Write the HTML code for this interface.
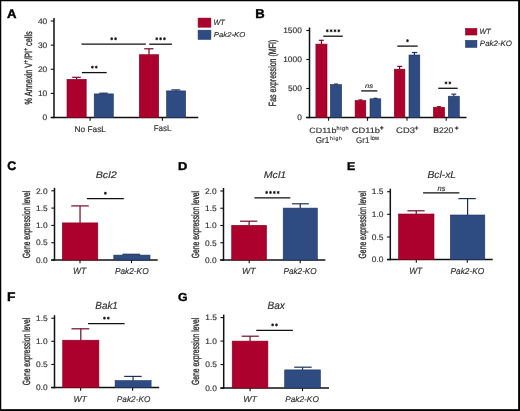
<!DOCTYPE html>
<html><head><meta charset="utf-8"><style>
html,body{margin:0;padding:0;background:#fff;}
svg{display:block;font-family:"Liberation Sans", sans-serif;filter:blur(0.3px);}
text{text-rendering:geometricPrecision;}
</style></head><body>
<svg width="520" height="411" viewBox="0 0 520 411">
<rect x="0" y="0" width="520" height="411" fill="#fff"/>
<text x="7.00" y="17.80" font-size="12.46" font-style="normal" font-weight="bold" fill="#000" stroke="#000" stroke-width="0.4" textLength="9.52" lengthAdjust="spacingAndGlyphs">A</text>
<line x1="54.00" y1="18.00" x2="54.00" y2="118.20" stroke="#111" stroke-width="1.5"/>
<line x1="50.80" y1="21.02" x2="54.00" y2="21.02" stroke="#111" stroke-width="1.1"/>
<text x="37.93" y="23.78" font-size="8.00" font-style="normal" font-weight="normal" fill="#303030" stroke="#303030" stroke-width="0.15" textLength="9.34" lengthAdjust="spacingAndGlyphs">40</text>
<line x1="50.80" y1="45.14" x2="54.00" y2="45.14" stroke="#111" stroke-width="1.1"/>
<text x="37.93" y="47.90" font-size="8.00" font-style="normal" font-weight="normal" fill="#303030" stroke="#303030" stroke-width="0.15" textLength="9.34" lengthAdjust="spacingAndGlyphs">30</text>
<line x1="50.80" y1="69.26" x2="54.00" y2="69.26" stroke="#111" stroke-width="1.1"/>
<text x="37.93" y="72.02" font-size="8.00" font-style="normal" font-weight="normal" fill="#303030" stroke="#303030" stroke-width="0.15" textLength="9.34" lengthAdjust="spacingAndGlyphs">20</text>
<line x1="50.80" y1="93.38" x2="54.00" y2="93.38" stroke="#111" stroke-width="1.1"/>
<text x="37.93" y="96.14" font-size="8.00" font-style="normal" font-weight="normal" fill="#303030" stroke="#303030" stroke-width="0.15" textLength="9.34" lengthAdjust="spacingAndGlyphs">10</text>
<line x1="50.80" y1="117.50" x2="54.00" y2="117.50" stroke="#111" stroke-width="1.1"/>
<text x="42.63" y="120.26" font-size="8.00" font-style="normal" font-weight="normal" fill="#303030" stroke="#303030" stroke-width="0.15" textLength="4.67" lengthAdjust="spacingAndGlyphs">0</text>
<line x1="50.80" y1="117.50" x2="198.30" y2="117.50" stroke="#111" stroke-width="1.5"/>
<line x1="90.10" y1="117.50" x2="90.10" y2="120.80" stroke="#111" stroke-width="1.1"/>
<line x1="162.40" y1="117.50" x2="162.40" y2="120.80" stroke="#111" stroke-width="1.1"/>
<line x1="76.60" y1="77.30" x2="76.60" y2="79.30" stroke="#700a25" stroke-width="1.2"/>
<line x1="72.20" y1="77.30" x2="80.80" y2="77.30" stroke="#700a25" stroke-width="1.2"/>
<rect x="67.00" y="79.30" width="19.20" height="38.20" fill="#ac002d" stroke="#86001f" stroke-width="0.6"/>
<line x1="103.75" y1="93.20" x2="103.75" y2="93.90" stroke="#1f3058" stroke-width="1.2"/>
<line x1="99.40" y1="93.20" x2="107.70" y2="93.20" stroke="#1f3058" stroke-width="1.2"/>
<rect x="94.20" y="93.90" width="19.10" height="23.60" fill="#2e4b82" stroke="#1c3260" stroke-width="0.6"/>
<line x1="149.00" y1="48.80" x2="149.00" y2="54.70" stroke="#700a25" stroke-width="1.2"/>
<line x1="144.20" y1="48.80" x2="153.50" y2="48.80" stroke="#700a25" stroke-width="1.2"/>
<rect x="139.30" y="54.70" width="19.40" height="62.80" fill="#ac002d" stroke="#86001f" stroke-width="0.6"/>
<line x1="176.10" y1="89.90" x2="176.10" y2="90.90" stroke="#1f3058" stroke-width="1.2"/>
<line x1="171.40" y1="89.90" x2="180.30" y2="89.90" stroke="#1f3058" stroke-width="1.2"/>
<rect x="166.60" y="90.90" width="19.00" height="26.60" fill="#2e4b82" stroke="#1c3260" stroke-width="0.6"/>
<line x1="81.50" y1="44.20" x2="145.80" y2="44.20" stroke="#111" stroke-width="1.3"/>
<circle cx="111.73" cy="38.75" r="0.95" fill="#151515"/>
<line x1="111.73" y1="37.20" x2="111.73" y2="40.30" stroke="#151515" stroke-width="0.75"/>
<line x1="110.38" y1="37.98" x2="113.07" y2="39.52" stroke="#151515" stroke-width="0.75"/>
<line x1="113.07" y1="37.98" x2="110.38" y2="39.52" stroke="#151515" stroke-width="0.75"/>
<circle cx="115.58" cy="38.75" r="0.95" fill="#151515"/>
<line x1="115.58" y1="37.20" x2="115.58" y2="40.30" stroke="#151515" stroke-width="0.75"/>
<line x1="114.23" y1="37.98" x2="116.92" y2="39.52" stroke="#151515" stroke-width="0.75"/>
<line x1="116.92" y1="37.98" x2="114.23" y2="39.52" stroke="#151515" stroke-width="0.75"/>
<line x1="149.30" y1="44.20" x2="171.90" y2="44.20" stroke="#111" stroke-width="1.3"/>
<circle cx="156.75" cy="38.75" r="0.95" fill="#151515"/>
<line x1="156.75" y1="37.20" x2="156.75" y2="40.30" stroke="#151515" stroke-width="0.75"/>
<line x1="155.41" y1="37.98" x2="158.09" y2="39.52" stroke="#151515" stroke-width="0.75"/>
<line x1="158.09" y1="37.98" x2="155.41" y2="39.52" stroke="#151515" stroke-width="0.75"/>
<circle cx="160.60" cy="38.75" r="0.95" fill="#151515"/>
<line x1="160.60" y1="37.20" x2="160.60" y2="40.30" stroke="#151515" stroke-width="0.75"/>
<line x1="159.26" y1="37.98" x2="161.94" y2="39.52" stroke="#151515" stroke-width="0.75"/>
<line x1="161.94" y1="37.98" x2="159.26" y2="39.52" stroke="#151515" stroke-width="0.75"/>
<circle cx="164.45" cy="38.75" r="0.95" fill="#151515"/>
<line x1="164.45" y1="37.20" x2="164.45" y2="40.30" stroke="#151515" stroke-width="0.75"/>
<line x1="163.11" y1="37.98" x2="165.79" y2="39.52" stroke="#151515" stroke-width="0.75"/>
<line x1="165.79" y1="37.98" x2="163.11" y2="39.52" stroke="#151515" stroke-width="0.75"/>
<line x1="81.90" y1="72.60" x2="106.70" y2="72.60" stroke="#111" stroke-width="1.3"/>
<circle cx="92.38" cy="67.15" r="0.95" fill="#151515"/>
<line x1="92.38" y1="65.60" x2="92.38" y2="68.70" stroke="#151515" stroke-width="0.75"/>
<line x1="91.03" y1="66.37" x2="93.72" y2="67.92" stroke="#151515" stroke-width="0.75"/>
<line x1="93.72" y1="66.37" x2="91.03" y2="67.92" stroke="#151515" stroke-width="0.75"/>
<circle cx="96.23" cy="67.15" r="0.95" fill="#151515"/>
<line x1="96.23" y1="65.60" x2="96.23" y2="68.70" stroke="#151515" stroke-width="0.75"/>
<line x1="94.88" y1="66.37" x2="97.57" y2="67.92" stroke="#151515" stroke-width="0.75"/>
<line x1="97.57" y1="66.37" x2="94.88" y2="67.92" stroke="#151515" stroke-width="0.75"/>
<text x="74.43" y="131.62" font-size="8.29" font-style="normal" font-weight="normal" fill="#303030" stroke="#303030" stroke-width="0.15" textLength="31.60" lengthAdjust="spacingAndGlyphs">No FasL</text>
<text x="153.66" y="131.42" font-size="8.29" font-style="normal" font-weight="normal" fill="#303030" stroke="#303030" stroke-width="0.15" textLength="17.80" lengthAdjust="spacingAndGlyphs">FasL</text>
<text x="31.6" y="67.8" font-size="10.4" fill="#303030" stroke="#303030" stroke-width="0.35" text-anchor="middle" textLength="73.2" lengthAdjust="spacingAndGlyphs" transform="rotate(-90 31.6 67.8)">% Annexin V<tspan font-size="7" dy="-3.8">+</tspan><tspan dy="3.8">/PI</tspan><tspan font-size="7" dy="-3.8">+</tspan><tspan dy="3.8"> cells</tspan></text>
<rect x="198.10" y="18.10" width="12.80" height="9.10" fill="#ac002d" stroke="#86001f" stroke-width="0.6"/>
<rect x="198.10" y="30.20" width="12.80" height="9.10" fill="#2e4b82" stroke="#1c3260" stroke-width="0.6"/>
<text x="213.44" y="25.00" font-size="7.97" font-style="italic" font-weight="normal" fill="#303030" stroke="#303030" stroke-width="0.15" textLength="11.35" lengthAdjust="spacingAndGlyphs">WT</text>
<text x="213.87" y="36.73" font-size="7.12" font-style="italic" font-weight="normal" fill="#303030" stroke="#303030" stroke-width="0.15" textLength="31.44" lengthAdjust="spacingAndGlyphs">Pak2-KO</text>
<text x="255.18" y="17.80" font-size="12.75" font-style="normal" font-weight="bold" fill="#000" stroke="#000" stroke-width="0.4" textLength="9.47" lengthAdjust="spacingAndGlyphs">B</text>
<line x1="309.50" y1="27.50" x2="309.50" y2="118.20" stroke="#111" stroke-width="1.5"/>
<line x1="306.30" y1="30.50" x2="309.50" y2="30.50" stroke="#111" stroke-width="1.1"/>
<text x="283.20" y="33.26" font-size="8.00" font-style="normal" font-weight="normal" fill="#303030" stroke="#303030" stroke-width="0.15" textLength="18.68" lengthAdjust="spacingAndGlyphs">1500</text>
<line x1="306.30" y1="59.50" x2="309.50" y2="59.50" stroke="#111" stroke-width="1.1"/>
<text x="283.20" y="62.26" font-size="8.00" font-style="normal" font-weight="normal" fill="#303030" stroke="#303030" stroke-width="0.15" textLength="18.68" lengthAdjust="spacingAndGlyphs">1000</text>
<line x1="306.30" y1="88.50" x2="309.50" y2="88.50" stroke="#111" stroke-width="1.1"/>
<text x="287.91" y="91.26" font-size="8.00" font-style="normal" font-weight="normal" fill="#303030" stroke="#303030" stroke-width="0.15" textLength="14.01" lengthAdjust="spacingAndGlyphs">500</text>
<line x1="306.30" y1="117.50" x2="309.50" y2="117.50" stroke="#111" stroke-width="1.1"/>
<text x="297.23" y="120.26" font-size="8.00" font-style="normal" font-weight="normal" fill="#303030" stroke="#303030" stroke-width="0.15" textLength="4.67" lengthAdjust="spacingAndGlyphs">0</text>
<line x1="306.10" y1="117.50" x2="466.50" y2="117.50" stroke="#111" stroke-width="1.5"/>
<line x1="328.60" y1="117.50" x2="328.60" y2="120.80" stroke="#111" stroke-width="1.1"/>
<line x1="367.50" y1="117.50" x2="367.50" y2="120.80" stroke="#111" stroke-width="1.1"/>
<line x1="407.00" y1="117.50" x2="407.00" y2="120.80" stroke="#111" stroke-width="1.1"/>
<line x1="446.20" y1="117.50" x2="446.20" y2="120.80" stroke="#111" stroke-width="1.1"/>
<line x1="321.45" y1="40.30" x2="321.45" y2="44.10" stroke="#700a25" stroke-width="1.2"/>
<line x1="318.90" y1="40.30" x2="323.80" y2="40.30" stroke="#700a25" stroke-width="1.2"/>
<rect x="315.90" y="44.10" width="11.10" height="73.40" fill="#ac002d" stroke="#86001f" stroke-width="0.6"/>
<line x1="336.00" y1="84.10" x2="336.00" y2="84.60" stroke="#1f3058" stroke-width="1.2"/>
<line x1="334.00" y1="84.10" x2="338.00" y2="84.10" stroke="#1f3058" stroke-width="1.2"/>
<rect x="330.40" y="84.60" width="11.20" height="32.90" fill="#2e4b82" stroke="#1c3260" stroke-width="0.6"/>
<line x1="360.45" y1="99.90" x2="360.45" y2="100.50" stroke="#700a25" stroke-width="1.2"/>
<line x1="358.50" y1="99.90" x2="362.50" y2="99.90" stroke="#700a25" stroke-width="1.2"/>
<rect x="355.10" y="100.50" width="10.70" height="17.00" fill="#ac002d" stroke="#86001f" stroke-width="0.6"/>
<line x1="375.40" y1="98.30" x2="375.40" y2="98.80" stroke="#1f3058" stroke-width="1.2"/>
<line x1="373.40" y1="98.30" x2="377.40" y2="98.30" stroke="#1f3058" stroke-width="1.2"/>
<rect x="370.00" y="98.80" width="10.80" height="18.70" fill="#2e4b82" stroke="#1c3260" stroke-width="0.6"/>
<line x1="399.60" y1="66.40" x2="399.60" y2="69.20" stroke="#700a25" stroke-width="1.2"/>
<line x1="397.30" y1="66.40" x2="402.20" y2="66.40" stroke="#700a25" stroke-width="1.2"/>
<rect x="394.30" y="69.20" width="10.60" height="48.30" fill="#ac002d" stroke="#86001f" stroke-width="0.6"/>
<line x1="414.40" y1="52.50" x2="414.40" y2="55.00" stroke="#1f3058" stroke-width="1.2"/>
<line x1="411.90" y1="52.50" x2="417.30" y2="52.50" stroke="#1f3058" stroke-width="1.2"/>
<rect x="409.00" y="55.00" width="10.80" height="62.50" fill="#2e4b82" stroke="#1c3260" stroke-width="0.6"/>
<line x1="439.00" y1="106.70" x2="439.00" y2="107.20" stroke="#700a25" stroke-width="1.2"/>
<line x1="437.00" y1="106.70" x2="441.00" y2="106.70" stroke="#700a25" stroke-width="1.2"/>
<rect x="433.40" y="107.20" width="11.20" height="10.30" fill="#ac002d" stroke="#86001f" stroke-width="0.6"/>
<line x1="453.80" y1="94.20" x2="453.80" y2="96.20" stroke="#1f3058" stroke-width="1.2"/>
<line x1="451.40" y1="94.20" x2="456.20" y2="94.20" stroke="#1f3058" stroke-width="1.2"/>
<rect x="448.30" y="96.20" width="11.00" height="21.30" fill="#2e4b82" stroke="#1c3260" stroke-width="0.6"/>
<line x1="323.30" y1="36.20" x2="342.80" y2="36.20" stroke="#111" stroke-width="1.3"/>
<circle cx="327.28" cy="30.75" r="0.95" fill="#151515"/>
<line x1="327.28" y1="29.20" x2="327.28" y2="32.30" stroke="#151515" stroke-width="0.75"/>
<line x1="325.93" y1="29.98" x2="328.62" y2="31.53" stroke="#151515" stroke-width="0.75"/>
<line x1="328.62" y1="29.98" x2="325.93" y2="31.53" stroke="#151515" stroke-width="0.75"/>
<circle cx="331.12" cy="30.75" r="0.95" fill="#151515"/>
<line x1="331.12" y1="29.20" x2="331.12" y2="32.30" stroke="#151515" stroke-width="0.75"/>
<line x1="329.78" y1="29.98" x2="332.47" y2="31.53" stroke="#151515" stroke-width="0.75"/>
<line x1="332.47" y1="29.98" x2="329.78" y2="31.53" stroke="#151515" stroke-width="0.75"/>
<circle cx="334.98" cy="30.75" r="0.95" fill="#151515"/>
<line x1="334.98" y1="29.20" x2="334.98" y2="32.30" stroke="#151515" stroke-width="0.75"/>
<line x1="333.63" y1="29.98" x2="336.32" y2="31.53" stroke="#151515" stroke-width="0.75"/>
<line x1="336.32" y1="29.98" x2="333.63" y2="31.53" stroke="#151515" stroke-width="0.75"/>
<circle cx="338.82" cy="30.75" r="0.95" fill="#151515"/>
<line x1="338.82" y1="29.20" x2="338.82" y2="32.30" stroke="#151515" stroke-width="0.75"/>
<line x1="337.48" y1="29.98" x2="340.17" y2="31.53" stroke="#151515" stroke-width="0.75"/>
<line x1="340.17" y1="29.98" x2="337.48" y2="31.53" stroke="#151515" stroke-width="0.75"/>
<line x1="361.20" y1="90.90" x2="377.30" y2="90.90" stroke="#111" stroke-width="1.3"/>
<text x="364.95" y="87.94" font-size="6.36" font-style="italic" font-weight="normal" fill="#303030" stroke="#303030" stroke-width="0.15" textLength="8.08" lengthAdjust="spacingAndGlyphs">ns</text>
<line x1="397.30" y1="46.10" x2="417.70" y2="46.10" stroke="#111" stroke-width="1.3"/>
<circle cx="407.50" cy="40.65" r="0.95" fill="#151515"/>
<line x1="407.50" y1="39.10" x2="407.50" y2="42.20" stroke="#151515" stroke-width="0.75"/>
<line x1="406.16" y1="39.88" x2="408.84" y2="41.42" stroke="#151515" stroke-width="0.75"/>
<line x1="408.84" y1="39.88" x2="406.16" y2="41.42" stroke="#151515" stroke-width="0.75"/>
<line x1="438.20" y1="88.30" x2="457.70" y2="88.30" stroke="#111" stroke-width="1.3"/>
<circle cx="446.02" cy="82.85" r="0.95" fill="#151515"/>
<line x1="446.02" y1="81.30" x2="446.02" y2="84.40" stroke="#151515" stroke-width="0.75"/>
<line x1="444.68" y1="82.07" x2="447.37" y2="83.62" stroke="#151515" stroke-width="0.75"/>
<line x1="447.37" y1="82.07" x2="444.68" y2="83.62" stroke="#151515" stroke-width="0.75"/>
<circle cx="449.88" cy="82.85" r="0.95" fill="#151515"/>
<line x1="449.88" y1="81.30" x2="449.88" y2="84.40" stroke="#151515" stroke-width="0.75"/>
<line x1="448.53" y1="82.07" x2="451.22" y2="83.62" stroke="#151515" stroke-width="0.75"/>
<line x1="451.22" y1="82.07" x2="448.53" y2="83.62" stroke="#151515" stroke-width="0.75"/>
<text x="309.25" y="133.32" font-size="7.67" font-style="normal" font-weight="normal" fill="#303030" stroke="#303030" stroke-width="0.15" textLength="27.18" lengthAdjust="spacingAndGlyphs">CD11b</text>
<text x="336.57" y="129.70" font-size="5.48" font-style="normal" font-weight="normal" fill="#303030" stroke="#303030" stroke-width="0.15" textLength="11.97" lengthAdjust="spacing">high</text>
<text x="315.69" y="142.91" font-size="8.59" font-style="normal" font-weight="normal" fill="#303030" stroke="#303030" stroke-width="0.15" textLength="13.59" lengthAdjust="spacingAndGlyphs">Gr1</text>
<text x="329.99" y="139.67" font-size="5.16" font-style="normal" font-weight="normal" fill="#303030" stroke="#303030" stroke-width="0.15" textLength="11.92" lengthAdjust="spacing">high</text>
<text x="351.84" y="133.02" font-size="7.81" font-style="normal" font-weight="normal" fill="#303030" stroke="#303030" stroke-width="0.15" textLength="28.11" lengthAdjust="spacingAndGlyphs">CD11b</text>
<text x="380.06" y="130.22" font-size="6.47" font-style="normal" font-weight="bold" fill="#303030" stroke="#303030" stroke-width="0.3" textLength="3.50" lengthAdjust="spacingAndGlyphs">+</text>
<text x="356.10" y="142.82" font-size="8.31" font-style="normal" font-weight="normal" fill="#303030" stroke="#303030" stroke-width="0.15" textLength="13.27" lengthAdjust="spacingAndGlyphs">Gr1</text>
<text x="370.56" y="140.09" font-size="6.16" font-style="normal" font-weight="normal" fill="#303030" stroke="#303030" stroke-width="0.15" textLength="8.39" lengthAdjust="spacingAndGlyphs">low</text>
<text x="396.13" y="133.02" font-size="8.03" font-style="normal" font-weight="normal" fill="#303030" stroke="#303030" stroke-width="0.15" textLength="18.85" lengthAdjust="spacingAndGlyphs">CD3</text>
<text x="414.84" y="129.89" font-size="6.08" font-style="normal" font-weight="bold" fill="#303030" stroke="#303030" stroke-width="0.3" textLength="3.74" lengthAdjust="spacingAndGlyphs">+</text>
<text x="433.21" y="133.02" font-size="8.03" font-style="normal" font-weight="normal" fill="#303030" stroke="#303030" stroke-width="0.15" textLength="20.09" lengthAdjust="spacingAndGlyphs">B220</text>
<text x="454.84" y="129.87" font-size="5.88" font-style="normal" font-weight="bold" fill="#303030" stroke="#303030" stroke-width="0.3" textLength="3.85" lengthAdjust="spacingAndGlyphs">+</text>
<text x="276.50" y="72.95" font-size="10.4" fill="#303030" stroke="#303030" stroke-width="0.35" text-anchor="middle" textLength="66.40" lengthAdjust="spacingAndGlyphs" transform="rotate(-90 276.50 72.95)">Fas expression (MFI)</text>
<rect x="465.60" y="28.50" width="11.30" height="6.50" fill="#ac002d" stroke="#86001f" stroke-width="0.6"/>
<rect x="465.60" y="40.40" width="11.30" height="6.90" fill="#2e4b82" stroke="#1c3260" stroke-width="0.6"/>
<text x="479.44" y="34.30" font-size="7.54" font-style="italic" font-weight="normal" fill="#303030" stroke="#303030" stroke-width="0.15" textLength="11.35" lengthAdjust="spacingAndGlyphs">WT</text>
<text x="479.86" y="46.32" font-size="7.81" font-style="italic" font-weight="normal" fill="#303030" stroke="#303030" stroke-width="0.15" textLength="32.15" lengthAdjust="spacingAndGlyphs">Pak2-KO</text>
<line x1="54.50" y1="187.80" x2="54.50" y2="260.70" stroke="#111" stroke-width="1.5"/>
<line x1="51.30" y1="190.80" x2="54.50" y2="190.80" stroke="#111" stroke-width="1.1"/>
<text x="35.96" y="193.56" font-size="8.00" font-style="normal" font-weight="normal" fill="#303030" stroke="#303030" stroke-width="0.15" textLength="11.68" lengthAdjust="spacingAndGlyphs">2.0</text>
<line x1="51.30" y1="208.10" x2="54.50" y2="208.10" stroke="#111" stroke-width="1.1"/>
<text x="36.04" y="210.82" font-size="8.00" font-style="normal" font-weight="normal" fill="#303030" stroke="#303030" stroke-width="0.15" textLength="11.68" lengthAdjust="spacingAndGlyphs">1.5</text>
<line x1="51.30" y1="225.40" x2="54.50" y2="225.40" stroke="#111" stroke-width="1.1"/>
<text x="35.96" y="228.16" font-size="8.00" font-style="normal" font-weight="normal" fill="#303030" stroke="#303030" stroke-width="0.15" textLength="11.68" lengthAdjust="spacingAndGlyphs">1.0</text>
<line x1="51.30" y1="242.70" x2="54.50" y2="242.70" stroke="#111" stroke-width="1.1"/>
<text x="36.04" y="245.46" font-size="8.00" font-style="normal" font-weight="normal" fill="#303030" stroke="#303030" stroke-width="0.15" textLength="11.68" lengthAdjust="spacingAndGlyphs">0.5</text>
<line x1="51.30" y1="260.00" x2="54.50" y2="260.00" stroke="#111" stroke-width="1.1"/>
<text x="35.96" y="262.76" font-size="8.00" font-style="normal" font-weight="normal" fill="#303030" stroke="#303030" stroke-width="0.15" textLength="11.68" lengthAdjust="spacingAndGlyphs">0.0</text>
<line x1="51.10" y1="260.00" x2="157.70" y2="260.00" stroke="#111" stroke-width="1.5"/>
<line x1="80.00" y1="260.00" x2="80.00" y2="263.20" stroke="#111" stroke-width="1.1"/>
<line x1="131.50" y1="260.00" x2="131.50" y2="263.20" stroke="#111" stroke-width="1.1"/>
<line x1="80.05" y1="205.90" x2="80.05" y2="222.90" stroke="#700a25" stroke-width="1.2"/>
<line x1="71.20" y1="205.90" x2="88.80" y2="205.90" stroke="#700a25" stroke-width="1.2"/>
<rect x="62.30" y="222.90" width="35.50" height="37.10" fill="#ac002d" stroke="#86001f" stroke-width="0.6"/>
<line x1="131.90" y1="254.30" x2="131.90" y2="255.10" stroke="#1f3058" stroke-width="1.2"/>
<line x1="122.40" y1="254.30" x2="140.20" y2="254.30" stroke="#1f3058" stroke-width="1.2"/>
<rect x="113.80" y="255.10" width="36.20" height="4.90" fill="#2e4b82" stroke="#1c3260" stroke-width="0.6"/>
<line x1="86.90" y1="198.70" x2="123.80" y2="198.70" stroke="#111" stroke-width="1.3"/>
<circle cx="105.35" cy="193.25" r="0.95" fill="#151515"/>
<line x1="105.35" y1="191.70" x2="105.35" y2="194.80" stroke="#151515" stroke-width="0.75"/>
<line x1="104.01" y1="192.47" x2="106.69" y2="194.03" stroke="#151515" stroke-width="0.75"/>
<line x1="106.69" y1="192.47" x2="104.01" y2="194.03" stroke="#151515" stroke-width="0.75"/>
<text x="7.30" y="170.38" font-size="12.39" font-style="normal" font-weight="bold" fill="#000" stroke="#000" stroke-width="0.4" textLength="9.00" lengthAdjust="spacingAndGlyphs">C</text>
<text x="95.68" y="177.81" font-size="9.45" font-style="italic" font-weight="normal" fill="#303030" stroke="#303030" stroke-width="0.15" textLength="20.99" lengthAdjust="spacingAndGlyphs">Bcl2</text>
<text x="73.04" y="273.90" font-size="8.99" font-style="italic" font-weight="normal" fill="#303030" stroke="#303030" stroke-width="0.15" textLength="13.09" lengthAdjust="spacingAndGlyphs">WT</text>
<text x="114.95" y="273.81" font-size="8.63" font-style="italic" font-weight="normal" fill="#303030" stroke="#303030" stroke-width="0.15" textLength="33.67" lengthAdjust="spacingAndGlyphs">Pak2-KO</text>
<text x="30.30" y="224.50" font-size="10.4" fill="#303030" stroke="#303030" stroke-width="0.35" text-anchor="middle" textLength="67.40" lengthAdjust="spacingAndGlyphs" transform="rotate(-90 30.30 224.50)">Gene expression level</text>
<line x1="223.50" y1="188.00" x2="223.50" y2="260.70" stroke="#111" stroke-width="1.5"/>
<line x1="220.30" y1="191.00" x2="223.50" y2="191.00" stroke="#111" stroke-width="1.1"/>
<text x="204.96" y="193.76" font-size="8.00" font-style="normal" font-weight="normal" fill="#303030" stroke="#303030" stroke-width="0.15" textLength="11.68" lengthAdjust="spacingAndGlyphs">2.0</text>
<line x1="220.30" y1="208.25" x2="223.50" y2="208.25" stroke="#111" stroke-width="1.1"/>
<text x="205.04" y="210.97" font-size="8.00" font-style="normal" font-weight="normal" fill="#303030" stroke="#303030" stroke-width="0.15" textLength="11.68" lengthAdjust="spacingAndGlyphs">1.5</text>
<line x1="220.30" y1="225.50" x2="223.50" y2="225.50" stroke="#111" stroke-width="1.1"/>
<text x="204.96" y="228.26" font-size="8.00" font-style="normal" font-weight="normal" fill="#303030" stroke="#303030" stroke-width="0.15" textLength="11.68" lengthAdjust="spacingAndGlyphs">1.0</text>
<line x1="220.30" y1="242.75" x2="223.50" y2="242.75" stroke="#111" stroke-width="1.1"/>
<text x="205.04" y="245.51" font-size="8.00" font-style="normal" font-weight="normal" fill="#303030" stroke="#303030" stroke-width="0.15" textLength="11.68" lengthAdjust="spacingAndGlyphs">0.5</text>
<line x1="220.30" y1="260.00" x2="223.50" y2="260.00" stroke="#111" stroke-width="1.1"/>
<text x="204.96" y="262.76" font-size="8.00" font-style="normal" font-weight="normal" fill="#303030" stroke="#303030" stroke-width="0.15" textLength="11.68" lengthAdjust="spacingAndGlyphs">0.0</text>
<line x1="220.10" y1="260.00" x2="325.40" y2="260.00" stroke="#111" stroke-width="1.5"/>
<line x1="249.20" y1="260.00" x2="249.20" y2="263.20" stroke="#111" stroke-width="1.1"/>
<line x1="300.20" y1="260.00" x2="300.20" y2="263.20" stroke="#111" stroke-width="1.1"/>
<line x1="249.10" y1="221.20" x2="249.10" y2="225.30" stroke="#700a25" stroke-width="1.2"/>
<line x1="240.00" y1="221.20" x2="257.30" y2="221.20" stroke="#700a25" stroke-width="1.2"/>
<rect x="231.70" y="225.30" width="34.80" height="34.70" fill="#ac002d" stroke="#86001f" stroke-width="0.6"/>
<line x1="300.25" y1="203.80" x2="300.25" y2="208.10" stroke="#1f3058" stroke-width="1.2"/>
<line x1="291.90" y1="203.80" x2="308.80" y2="203.80" stroke="#1f3058" stroke-width="1.2"/>
<rect x="283.20" y="208.10" width="34.10" height="51.90" fill="#2e4b82" stroke="#1c3260" stroke-width="0.6"/>
<line x1="254.40" y1="197.90" x2="290.40" y2="197.90" stroke="#111" stroke-width="1.3"/>
<circle cx="266.62" cy="192.45" r="0.95" fill="#151515"/>
<line x1="266.62" y1="190.90" x2="266.62" y2="194.00" stroke="#151515" stroke-width="0.75"/>
<line x1="265.28" y1="191.68" x2="267.97" y2="193.23" stroke="#151515" stroke-width="0.75"/>
<line x1="267.97" y1="191.68" x2="265.28" y2="193.23" stroke="#151515" stroke-width="0.75"/>
<circle cx="270.47" cy="192.45" r="0.95" fill="#151515"/>
<line x1="270.47" y1="190.90" x2="270.47" y2="194.00" stroke="#151515" stroke-width="0.75"/>
<line x1="269.13" y1="191.68" x2="271.82" y2="193.23" stroke="#151515" stroke-width="0.75"/>
<line x1="271.82" y1="191.68" x2="269.13" y2="193.23" stroke="#151515" stroke-width="0.75"/>
<circle cx="274.32" cy="192.45" r="0.95" fill="#151515"/>
<line x1="274.32" y1="190.90" x2="274.32" y2="194.00" stroke="#151515" stroke-width="0.75"/>
<line x1="272.98" y1="191.68" x2="275.67" y2="193.23" stroke="#151515" stroke-width="0.75"/>
<line x1="275.67" y1="191.68" x2="272.98" y2="193.23" stroke="#151515" stroke-width="0.75"/>
<circle cx="278.17" cy="192.45" r="0.95" fill="#151515"/>
<line x1="278.17" y1="190.90" x2="278.17" y2="194.00" stroke="#151515" stroke-width="0.75"/>
<line x1="276.83" y1="191.68" x2="279.52" y2="193.23" stroke="#151515" stroke-width="0.75"/>
<line x1="279.52" y1="191.68" x2="276.83" y2="193.23" stroke="#151515" stroke-width="0.75"/>
<text x="178.09" y="170.30" font-size="11.30" font-style="normal" font-weight="bold" fill="#000" stroke="#000" stroke-width="0.4" textLength="9.35" lengthAdjust="spacingAndGlyphs">D</text>
<text x="263.78" y="177.60" font-size="9.59" font-style="italic" font-weight="normal" fill="#303030" stroke="#303030" stroke-width="0.15" textLength="22.38" lengthAdjust="spacingAndGlyphs">Mcl1</text>
<text x="242.12" y="273.90" font-size="8.84" font-style="italic" font-weight="normal" fill="#303030" stroke="#303030" stroke-width="0.15" textLength="13.50" lengthAdjust="spacingAndGlyphs">WT</text>
<text x="283.45" y="273.81" font-size="8.63" font-style="italic" font-weight="normal" fill="#303030" stroke="#303030" stroke-width="0.15" textLength="33.27" lengthAdjust="spacingAndGlyphs">Pak2-KO</text>
<text x="199.30" y="224.60" font-size="10.4" fill="#303030" stroke="#303030" stroke-width="0.35" text-anchor="middle" textLength="67.40" lengthAdjust="spacingAndGlyphs" transform="rotate(-90 199.30 224.60)">Gene expression level</text>
<line x1="390.30" y1="188.70" x2="390.30" y2="260.30" stroke="#111" stroke-width="1.5"/>
<line x1="387.10" y1="191.70" x2="390.30" y2="191.70" stroke="#111" stroke-width="1.1"/>
<text x="371.84" y="194.42" font-size="8.00" font-style="normal" font-weight="normal" fill="#303030" stroke="#303030" stroke-width="0.15" textLength="11.68" lengthAdjust="spacingAndGlyphs">1.5</text>
<line x1="387.10" y1="214.33" x2="390.30" y2="214.33" stroke="#111" stroke-width="1.1"/>
<text x="371.76" y="217.09" font-size="8.00" font-style="normal" font-weight="normal" fill="#303030" stroke="#303030" stroke-width="0.15" textLength="11.68" lengthAdjust="spacingAndGlyphs">1.0</text>
<line x1="387.10" y1="236.97" x2="390.30" y2="236.97" stroke="#111" stroke-width="1.1"/>
<text x="371.84" y="239.73" font-size="8.00" font-style="normal" font-weight="normal" fill="#303030" stroke="#303030" stroke-width="0.15" textLength="11.68" lengthAdjust="spacingAndGlyphs">0.5</text>
<line x1="387.10" y1="259.60" x2="390.30" y2="259.60" stroke="#111" stroke-width="1.1"/>
<text x="371.76" y="262.36" font-size="8.00" font-style="normal" font-weight="normal" fill="#303030" stroke="#303030" stroke-width="0.15" textLength="11.68" lengthAdjust="spacingAndGlyphs">0.0</text>
<line x1="386.90" y1="259.60" x2="492.70" y2="259.60" stroke="#111" stroke-width="1.5"/>
<line x1="416.30" y1="259.60" x2="416.30" y2="262.80" stroke="#111" stroke-width="1.1"/>
<line x1="467.30" y1="259.60" x2="467.30" y2="262.80" stroke="#111" stroke-width="1.1"/>
<line x1="416.25" y1="210.80" x2="416.25" y2="214.00" stroke="#700a25" stroke-width="1.2"/>
<line x1="407.40" y1="210.80" x2="424.70" y2="210.80" stroke="#700a25" stroke-width="1.2"/>
<rect x="398.50" y="214.00" width="35.50" height="45.60" fill="#ac002d" stroke="#86001f" stroke-width="0.6"/>
<line x1="467.60" y1="198.60" x2="467.60" y2="215.00" stroke="#1f3058" stroke-width="1.2"/>
<line x1="458.40" y1="198.60" x2="475.80" y2="198.60" stroke="#1f3058" stroke-width="1.2"/>
<rect x="450.40" y="215.00" width="34.40" height="44.60" fill="#2e4b82" stroke="#1c3260" stroke-width="0.6"/>
<line x1="423.10" y1="192.80" x2="459.40" y2="192.80" stroke="#111" stroke-width="1.3"/>
<text x="437.55" y="191.02" font-size="8.00" font-style="italic" font-weight="normal" fill="#303030" stroke="#303030" stroke-width="0.15" textLength="7.97" lengthAdjust="spacingAndGlyphs">ns</text>
<text x="346.94" y="170.40" font-size="11.45" font-style="normal" font-weight="bold" fill="#000" stroke="#000" stroke-width="0.4" textLength="8.22" lengthAdjust="spacingAndGlyphs">E</text>
<text x="427.49" y="178.00" font-size="10.14" font-style="italic" font-weight="normal" fill="#303030" stroke="#303030" stroke-width="0.15" textLength="28.62" lengthAdjust="spacingAndGlyphs">Bcl-xL</text>
<text x="409.15" y="273.80" font-size="8.99" font-style="italic" font-weight="normal" fill="#303030" stroke="#303030" stroke-width="0.15" textLength="12.99" lengthAdjust="spacingAndGlyphs">WT</text>
<text x="450.45" y="273.71" font-size="8.63" font-style="italic" font-weight="normal" fill="#303030" stroke="#303030" stroke-width="0.15" textLength="33.88" lengthAdjust="spacingAndGlyphs">Pak2-KO</text>
<text x="366.10" y="224.75" font-size="10.4" fill="#303030" stroke="#303030" stroke-width="0.35" text-anchor="middle" textLength="67.40" lengthAdjust="spacingAndGlyphs" transform="rotate(-90 366.10 224.75)">Gene expression level</text>
<line x1="54.50" y1="315.20" x2="54.50" y2="388.30" stroke="#111" stroke-width="1.5"/>
<line x1="51.30" y1="318.20" x2="54.50" y2="318.20" stroke="#111" stroke-width="1.1"/>
<text x="36.04" y="320.92" font-size="8.00" font-style="normal" font-weight="normal" fill="#303030" stroke="#303030" stroke-width="0.15" textLength="11.68" lengthAdjust="spacingAndGlyphs">1.5</text>
<line x1="51.30" y1="341.33" x2="54.50" y2="341.33" stroke="#111" stroke-width="1.1"/>
<text x="35.96" y="344.09" font-size="8.00" font-style="normal" font-weight="normal" fill="#303030" stroke="#303030" stroke-width="0.15" textLength="11.68" lengthAdjust="spacingAndGlyphs">1.0</text>
<line x1="51.30" y1="364.47" x2="54.50" y2="364.47" stroke="#111" stroke-width="1.1"/>
<text x="36.04" y="367.23" font-size="8.00" font-style="normal" font-weight="normal" fill="#303030" stroke="#303030" stroke-width="0.15" textLength="11.68" lengthAdjust="spacingAndGlyphs">0.5</text>
<line x1="51.30" y1="387.60" x2="54.50" y2="387.60" stroke="#111" stroke-width="1.1"/>
<text x="35.96" y="390.36" font-size="8.00" font-style="normal" font-weight="normal" fill="#303030" stroke="#303030" stroke-width="0.15" textLength="11.68" lengthAdjust="spacingAndGlyphs">0.0</text>
<line x1="51.10" y1="387.60" x2="159.20" y2="387.60" stroke="#111" stroke-width="1.5"/>
<line x1="80.60" y1="387.60" x2="80.60" y2="390.80" stroke="#111" stroke-width="1.1"/>
<line x1="132.60" y1="387.60" x2="132.60" y2="390.80" stroke="#111" stroke-width="1.1"/>
<line x1="80.80" y1="328.80" x2="80.80" y2="340.20" stroke="#700a25" stroke-width="1.2"/>
<line x1="71.50" y1="328.80" x2="89.30" y2="328.80" stroke="#700a25" stroke-width="1.2"/>
<rect x="62.70" y="340.20" width="36.20" height="47.40" fill="#ac002d" stroke="#86001f" stroke-width="0.6"/>
<line x1="133.10" y1="376.40" x2="133.10" y2="380.60" stroke="#1f3058" stroke-width="1.2"/>
<line x1="124.20" y1="376.40" x2="141.70" y2="376.40" stroke="#1f3058" stroke-width="1.2"/>
<rect x="115.10" y="380.60" width="36.00" height="7.00" fill="#2e4b82" stroke="#1c3260" stroke-width="0.6"/>
<line x1="88.10" y1="323.60" x2="124.60" y2="323.60" stroke="#111" stroke-width="1.3"/>
<circle cx="104.42" cy="318.15" r="0.95" fill="#151515"/>
<line x1="104.42" y1="316.60" x2="104.42" y2="319.70" stroke="#151515" stroke-width="0.75"/>
<line x1="103.08" y1="317.38" x2="105.77" y2="318.93" stroke="#151515" stroke-width="0.75"/>
<line x1="105.77" y1="317.38" x2="103.08" y2="318.93" stroke="#151515" stroke-width="0.75"/>
<circle cx="108.27" cy="318.15" r="0.95" fill="#151515"/>
<line x1="108.27" y1="316.60" x2="108.27" y2="319.70" stroke="#151515" stroke-width="0.75"/>
<line x1="106.93" y1="317.38" x2="109.62" y2="318.93" stroke="#151515" stroke-width="0.75"/>
<line x1="109.62" y1="317.38" x2="106.93" y2="318.93" stroke="#151515" stroke-width="0.75"/>
<text x="7.03" y="301.30" font-size="12.61" font-style="normal" font-weight="bold" fill="#000" stroke="#000" stroke-width="0.4" textLength="8.43" lengthAdjust="spacingAndGlyphs">F</text>
<text x="95.30" y="308.90" font-size="10.27" font-style="italic" font-weight="normal" fill="#303030" stroke="#303030" stroke-width="0.15" textLength="22.58" lengthAdjust="spacingAndGlyphs">Bak1</text>
<text x="73.43" y="401.80" font-size="8.55" font-style="italic" font-weight="normal" fill="#303030" stroke="#303030" stroke-width="0.15" textLength="13.30" lengthAdjust="spacingAndGlyphs">WT</text>
<text x="116.85" y="402.02" font-size="8.36" font-style="italic" font-weight="normal" fill="#303030" stroke="#303030" stroke-width="0.15" textLength="33.47" lengthAdjust="spacingAndGlyphs">Pak2-KO</text>
<text x="30.30" y="351.50" font-size="10.4" fill="#303030" stroke="#303030" stroke-width="0.35" text-anchor="middle" textLength="67.40" lengthAdjust="spacingAndGlyphs" transform="rotate(-90 30.30 351.50)">Gene expression level</text>
<line x1="223.70" y1="314.60" x2="223.70" y2="388.70" stroke="#111" stroke-width="1.5"/>
<line x1="220.50" y1="317.60" x2="223.70" y2="317.60" stroke="#111" stroke-width="1.1"/>
<text x="205.24" y="320.32" font-size="8.00" font-style="normal" font-weight="normal" fill="#303030" stroke="#303030" stroke-width="0.15" textLength="11.68" lengthAdjust="spacingAndGlyphs">1.5</text>
<line x1="220.50" y1="341.07" x2="223.70" y2="341.07" stroke="#111" stroke-width="1.1"/>
<text x="205.16" y="343.83" font-size="8.00" font-style="normal" font-weight="normal" fill="#303030" stroke="#303030" stroke-width="0.15" textLength="11.68" lengthAdjust="spacingAndGlyphs">1.0</text>
<line x1="220.50" y1="364.53" x2="223.70" y2="364.53" stroke="#111" stroke-width="1.1"/>
<text x="205.24" y="367.29" font-size="8.00" font-style="normal" font-weight="normal" fill="#303030" stroke="#303030" stroke-width="0.15" textLength="11.68" lengthAdjust="spacingAndGlyphs">0.5</text>
<line x1="220.50" y1="388.00" x2="223.70" y2="388.00" stroke="#111" stroke-width="1.1"/>
<text x="205.16" y="390.76" font-size="8.00" font-style="normal" font-weight="normal" fill="#303030" stroke="#303030" stroke-width="0.15" textLength="11.68" lengthAdjust="spacingAndGlyphs">0.0</text>
<line x1="220.30" y1="388.00" x2="329.00" y2="388.00" stroke="#111" stroke-width="1.5"/>
<line x1="250.10" y1="388.00" x2="250.10" y2="391.20" stroke="#111" stroke-width="1.1"/>
<line x1="302.50" y1="388.00" x2="302.50" y2="391.20" stroke="#111" stroke-width="1.1"/>
<line x1="250.05" y1="336.20" x2="250.05" y2="341.10" stroke="#700a25" stroke-width="1.2"/>
<line x1="241.70" y1="336.20" x2="258.80" y2="336.20" stroke="#700a25" stroke-width="1.2"/>
<rect x="232.20" y="341.10" width="35.70" height="46.90" fill="#ac002d" stroke="#86001f" stroke-width="0.6"/>
<line x1="302.55" y1="367.20" x2="302.55" y2="369.90" stroke="#1f3058" stroke-width="1.2"/>
<line x1="294.20" y1="367.20" x2="311.70" y2="367.20" stroke="#1f3058" stroke-width="1.2"/>
<rect x="284.70" y="369.90" width="35.70" height="18.10" fill="#2e4b82" stroke="#1c3260" stroke-width="0.6"/>
<line x1="256.30" y1="330.30" x2="292.80" y2="330.30" stroke="#111" stroke-width="1.3"/>
<circle cx="272.62" cy="324.85" r="0.95" fill="#151515"/>
<line x1="272.62" y1="323.30" x2="272.62" y2="326.40" stroke="#151515" stroke-width="0.75"/>
<line x1="271.28" y1="324.08" x2="273.97" y2="325.62" stroke="#151515" stroke-width="0.75"/>
<line x1="273.97" y1="324.08" x2="271.28" y2="325.62" stroke="#151515" stroke-width="0.75"/>
<circle cx="276.48" cy="324.85" r="0.95" fill="#151515"/>
<line x1="276.48" y1="323.30" x2="276.48" y2="326.40" stroke="#151515" stroke-width="0.75"/>
<line x1="275.13" y1="324.08" x2="277.82" y2="325.62" stroke="#151515" stroke-width="0.75"/>
<line x1="277.82" y1="324.08" x2="275.13" y2="325.62" stroke="#151515" stroke-width="0.75"/>
<text x="178.11" y="301.39" font-size="11.41" font-style="normal" font-weight="bold" fill="#000" stroke="#000" stroke-width="0.4" textLength="9.49" lengthAdjust="spacingAndGlyphs">G</text>
<text x="267.50" y="308.99" font-size="10.57" font-style="italic" font-weight="normal" fill="#303030" stroke="#303030" stroke-width="0.15" textLength="17.33" lengthAdjust="spacingAndGlyphs">Bax</text>
<text x="243.21" y="401.80" font-size="8.55" font-style="italic" font-weight="normal" fill="#303030" stroke="#303030" stroke-width="0.15" textLength="13.71" lengthAdjust="spacingAndGlyphs">WT</text>
<text x="285.25" y="402.02" font-size="8.36" font-style="italic" font-weight="normal" fill="#303030" stroke="#303030" stroke-width="0.15" textLength="33.57" lengthAdjust="spacingAndGlyphs">Pak2-KO</text>
<text x="199.50" y="351.40" font-size="10.4" fill="#303030" stroke="#303030" stroke-width="0.35" text-anchor="middle" textLength="67.40" lengthAdjust="spacingAndGlyphs" transform="rotate(-90 199.50 351.40)">Gene expression level</text>
<path d="M0.6 0.6 H518.9 V409.9 H0.6 Z" fill="none" stroke="#000" stroke-width="1.3"/>
<rect x="518.5" y="0" width="1.5" height="411" fill="#000"/>
<rect x="0" y="409.6" width="520" height="1.4" fill="#000"/>
</svg>
</body></html>
